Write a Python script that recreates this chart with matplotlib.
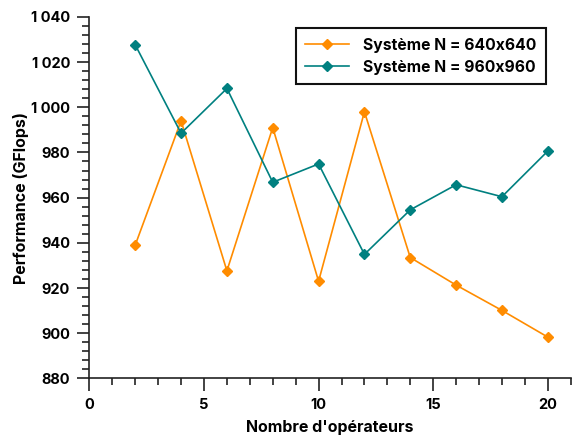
import matplotlib
matplotlib.use("Agg")
import matplotlib.pyplot as plt
from matplotlib.ticker import MultipleLocator, FuncFormatter

plt.rcParams['font.family'] = ['Inter', 'DejaVu Sans']
plt.rcParams['font.weight'] = 'bold'

# data
operateurs = [2, 4, 6, 8, 10, 12, 14, 16, 18, 20]
perf_640 = [939, 994, 927.6, 991, 923, 998, 933.5, 921.3, 910.1, 898.3]
perf_960 = [1027.6, 988.5, 1008.3, 966.8, 974.9, 934.9, 954.6, 965.7, 960.4, 980.6]
label_640 = "Système N = 640x640"
label_960 = "Système N = 960x960"

fig = plt.figure(figsize=(5.73, 4.37), dpi=100)
ax = fig.add_axes([0.156, 0.134, 0.84, 0.8275])

ax.plot(operateurs, perf_640, color='#FF8C00', marker='D', markersize=5.5,
        linewidth=1.2, label=label_640)
ax.plot(operateurs, perf_960, color='#008080', marker='D', markersize=5.5,
        linewidth=1.2, label=label_960)

ax.set_xlim(0, 21)
ax.set_ylim(880, 1040)
ax.xaxis.set_major_locator(MultipleLocator(5))
ax.xaxis.set_minor_locator(MultipleLocator(1))
ax.yaxis.set_major_locator(MultipleLocator(20))
ax.yaxis.set_minor_locator(MultipleLocator(4))
ax.yaxis.set_major_formatter(FuncFormatter(
    lambda v, p: f"{int(v):,}".replace(',', ' ')))

for s in ['top', 'right']:
    ax.spines[s].set_visible(False)
for s in ['left', 'bottom']:
    ax.spines[s].set_linewidth(1.2)
    ax.spines[s].set_color('#222222')

ax.tick_params(which='major', length=9, width=1.2, color='#222222',
               labelsize=10.5, pad=5)
ax.tick_params(which='minor', length=5, width=1.2, color='#222222')

ax.set_xlabel("Nombre d'opérateurs", fontsize=11.5, fontweight='bold', labelpad=6)
ax.set_ylabel("Performance (GFlops)", fontsize=11.5, fontweight='bold')
ax.yaxis.set_label_coords(-0.125, 0.5)

leg = ax.legend(loc='upper right', bbox_to_anchor=(0.965, 0.99), fancybox=False,
                framealpha=1, edgecolor='#111111', fontsize=11.3,
                handlelength=2.8, handletextpad=0.9, borderpad=0.6,
                labelspacing=0.45)
leg.get_frame().set_linewidth(1.5)

fig.savefig("out.png", dpi=100)
